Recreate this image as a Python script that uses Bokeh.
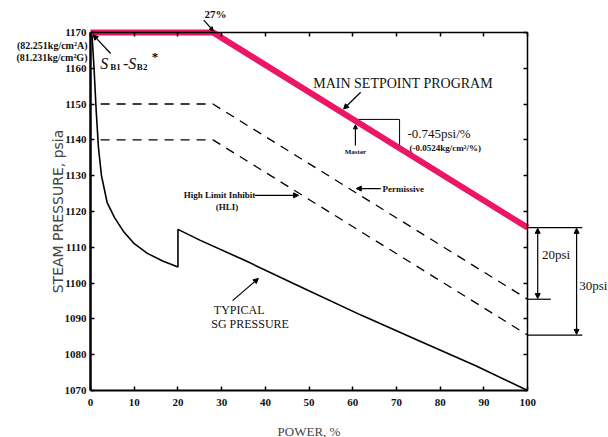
from bokeh.plotting import figure
from bokeh.models import (LinearAxis, Label, Arrow, NormalHead, Range1d, FixedTicker)
from bokeh.embed import file_html
from bokeh.resources import INLINE

# ---- data ----
x_ticks = [0, 10, 20, 30, 40, 50, 60, 70, 80, 90, 100]
y_ticks = [1070, 1080, 1090, 1100, 1110, 1120, 1130, 1140, 1150, 1160, 1170]

setpoint_x = [0, 28, 100]
setpoint_y = [1170, 1170, 1115.5]

permissive_x = [2.3, 28, 100]
permissive_y = [1150, 1150, 1095.5]

hli_x = [2.3, 28, 100]
hli_y = [1140, 1140, 1085.5]

sg_x = [0.3, 0.8, 1.3, 1.8, 2.5, 3.8, 5.5, 7.5, 10, 13, 16.5, 20, 20, 25, 35, 48, 62, 75, 88, 100]
sg_y = [1170, 1160, 1148, 1138, 1130, 1122.5, 1118.3, 1114.5, 1111, 1108.3, 1106.2, 1104.5,
        1115, 1112, 1106.5, 1099, 1091, 1084, 1077, 1070]

slope_tri_x = [60.6, 70.7, 70.7]
slope_tri_y = [1145.7, 1145.7, 1138.2]

SERIF = "Liberation Serif"
PINK = "#EC1566"

p = figure(width=608, height=437, output_backend="svg", toolbar_location=None,
           x_range=Range1d(-20.6, 118.5), y_range=Range1d(1056.9, 1178.9),
           min_border=0, x_axis_type=None, y_axis_type=None)
p.background_fill_color = "white"
p.border_fill_color = "white"
p.outline_line_color = None
p.xgrid.visible = False
p.ygrid.visible = False

def style_axis(ax, ticks, show_labels=True):
    ax.ticker = FixedTicker(ticks=ticks)
    ax.major_tick_in = 4
    ax.major_tick_out = 0
    ax.minor_tick_line_color = None
    ax.axis_line_color = "black"
    ax.axis_line_width = 1.5
    ax.major_tick_line_color = "black"
    ax.major_tick_line_width = 1.5
    ax.major_label_text_font = SERIF
    ax.major_label_text_font_style = "bold"
    ax.major_label_text_font_size = "11px"
    ax.major_label_text_color = "#111111"
    ax.major_label_standoff = 4
    if not show_labels:
        ax.major_label_overrides = {t: "" for t in ticks}

xb = LinearAxis(axis_label="POWER, %", fixed_location=1070, bounds=(0, 100))
xt = LinearAxis(fixed_location=1170, bounds=(0, 100))
yl = LinearAxis(axis_label="STEAM PRESSURE, psia", fixed_location=0, bounds=(1070, 1170))
yr = LinearAxis(fixed_location=100, bounds=(1070, 1170))
style_axis(xb, x_ticks)
style_axis(xt, x_ticks, False)
style_axis(yl, y_ticks)
style_axis(yr, y_ticks, False)
xb.axis_line_width = 2
xb.major_label_standoff = 8
yl.axis_line_width = 2.5
xb.axis_label_text_font = SERIF
xb.axis_label_text_font_size = "13px"
xb.axis_label_text_font_style = "normal"
xb.axis_label_standoff = 15
yl.axis_label_text_font = "DejaVu Sans"
yl.axis_label_text_font_size = "14px"
yl.axis_label_text_font_style = "normal"
yl.axis_label_standoff = -4
p.add_layout(xb, "below")
p.add_layout(xt, "above")
p.add_layout(yl, "left")
p.add_layout(yr, "right")

# ---- series ----
p.line(permissive_x, permissive_y, line_color="black", line_width=1.3, line_dash="9 7")
p.line(hli_x, hli_y, line_color="black", line_width=1.3, line_dash="9 7")
p.line(sg_x, sg_y, line_color="black", line_width=1.6)
p.line(slope_tri_x, slope_tri_y, line_color="black", line_width=1)
p.line(setpoint_x, setpoint_y, line_color=PINK, line_width=6)

def arrow(x0, y0, x1, y1, head=True, both=False, size=6, w=1.2):
    kw = dict(x_start=x0, y_start=y0, x_end=x1, y_end=y1, line_color="black", line_width=w)
    kw["end"] = NormalHead(size=size, fill_color="black", line_color="black") if head else None
    kw["start"] = NormalHead(size=size, fill_color="black", line_color="black") if both else None
    p.add_layout(Arrow(**kw))

def label(x, y, text, size="11px", font=SERIF, style="normal", align="left", baseline="middle"):
    p.add_layout(Label(x=x, y=y, text=text, text_font=font, text_font_size=size,
                       text_font_style=style, text_align=align, text_baseline=baseline,
                       text_color="#111111"))

# 27%
label(28.6, 1175, "27%", size="11px", style="bold", align="center")
arrow(25.9, 1173.4, 28.1, 1170.4, size=4)

# main setpoint
label(71.5, 1155.8, "MAIN SETPOINT PROGRAM", size="14px", align="center")
arrow(61.8, 1153.3, 57.9, 1148.6, size=5)
label(60.6, 1136.6, "Master", size="7px", style="bold", align="center")
arrow(60.6, 1138.4, 60.6, 1144.2, size=4)
label(72.5, 1141.8, "-0.745psi/%", size="13px")
label(73.0, 1137.6, "(-0.0524kg/cm²/%)", size="9px", style="bold")

# HLI / permissive
label(29.5, 1124.5, "High Limit Inhibit", size="9px", style="bold", align="center")
label(31.2, 1121.3, "(HLI)", size="9px", style="bold", align="center")
arrow(37.6, 1124.5, 47.6, 1124.5, size=5)
label(66.8, 1126.4, "Permissive", size="9px", style="bold")
arrow(66.4, 1126.4, 60.8, 1126.4, size=5)

# typical SG
label(34.0, 1092.6, "TYPICAL", size="12px", align="center")
label(36.5, 1088.7, "SG PRESSURE", size="12px", align="center")
arrow(32.5, 1095.1, 38.4, 1101.3, size=5)

# left labels
label(-0.7, 1166.4, "(82.251kg/cm²A)", size="10px", style="bold", align="right")
label(-0.7, 1162.9, "(81.231kg/cm²G)", size="10px", style="bold", align="right")
label(2.2, 1161.4, "S", size="16px", style="italic")
label(4.5, 1160.3, "B1", size="9px", style="bold")
label(7.4, 1161.4, "-S", size="16px", style="italic")
label(10.6, 1160.3, "B2", size="9px", style="bold")
label(14.0, 1163.2, "*", size="13px", style="bold")
arrow(4.6, 1164.1, 0.6, 1169.3, size=5)

# right brackets
arrow(100, 1115.5, 112.5, 1115.5, head=False)
arrow(100, 1095.5, 105.3, 1095.5, head=False)
arrow(100, 1085.5, 112.5, 1085.5, head=False)
arrow(102.3, 1115.3, 102.3, 1095.7, both=True, size=5)
arrow(111.2, 1115.3, 111.2, 1085.7, both=True, size=5)
label(103.3, 1108, "20psi", size="13px")
label(111.8, 1099.2, "30psi", size="13px")

open("out.html", "w").write(file_html(p, INLINE))
